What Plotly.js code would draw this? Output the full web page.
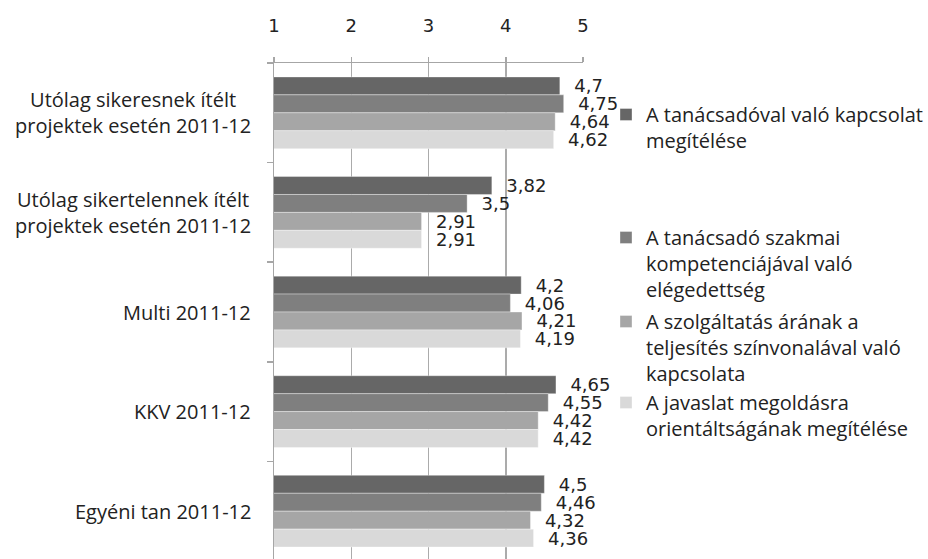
<!DOCTYPE html>
<html>
<head>
<meta charset="utf-8">
<script src="https://cdn.plot.ly/plotly-3.0.1.min.js"></script>
<style>
  html, body { margin: 0; padding: 0; background: #fff; overflow: hidden; }
  #chart { width: 928px; height: 561px; }
</style>
</head>
<body>
<div id="chart"></div>
<script>
// Categories (top to bottom) and the four rating series
const categories = [
  'Utólag sikeresnek ítélt<br>projektek esetén 2011-12',
  'Utólag sikertelennek ítélt<br>projektek esetén 2011-12',
  'Multi 2011-12',
  'KKV 2011-12',
  'Egyéni tan 2011-12'
];
const seriesNames = [
  'A tanácsadóval való kapcsolat<br>megítélése',
  'A tanácsadó szakmai<br>kompetenciájával való<br>elégedettség',
  'A szolgáltatás árának a<br>teljesítés színvonalával való<br>kapcsolata',
  'A javaslat megoldásra<br>orientáltságának megítélése'
];
const kapcsolat   = [4.7, 3.82, 4.2, 4.65, 4.5];
const kompetencia = [4.75, 3.5, 4.06, 4.55, 4.46];
const arSzinvonal = [4.64, 2.91, 4.21, 4.42, 4.32];
const megoldas    = [4.62, 2.91, 4.19, 4.42, 4.36];
const xTicks = [1, 2, 3, 4, 5];

const seriesValues = [kapcsolat, kompetencia, arSzinvonal, megoldas];
const colors = ['#666666', '#7f7f7f', '#a6a6a6', '#d9d9d9'];

// plot area in pixels, used to place legends and labels in paper units
const L = 274, R = 583, T = 63, B = 561;
const px = v => (v - L) / (R - L);
const py = v => 1 - (v - T) / (B - T);

const labelFont = { family: '"Open Sans", "Noto Sans", sans-serif', size: 20, color: '#222222' };
const numFont = { family: '"DejaVu Sans", sans-serif', size: 18, color: '#222222' };

const fmt = v => '\u00A0\u00A0' + String(v).replace('.', ',');

const legendIds = ['legend', 'legend2', 'legend3', 'legend4'];
const legendTops = [95, 218, 302, 383];

const traces = seriesValues.map((vals, i) => ({
  type: 'bar',
  orientation: 'h',
  name: seriesNames[i],
  y: categories,
  x: vals,
  text: vals.map(fmt),
  textposition: 'outside',
  constraintext: 'none',
  cliponaxis: false,
  textfont: numFont,
  marker: { color: colors[i], line: { color: 'rgba(255,255,255,0.35)', width: 1 } },
  legend: legendIds[i],
  hoverinfo: 'skip'
}));

const layout = {
  width: 928,
  height: 561,
  margin: { l: L, r: 928 - R, t: T, b: 561 - B },
  paper_bgcolor: '#ffffff',
  plot_bgcolor: '#ffffff',
  barmode: 'group',
  bargap: 0.28,
  bargroupgap: 0,
  showlegend: true,
  xaxis: {
    side: 'top',
    range: [1, 5],
    tickvals: xTicks,
    ticktext: xTicks.map(String),
    showgrid: true,
    gridcolor: '#ababab',
    gridwidth: 1.5,
    zeroline: false,
    showline: true,
    linecolor: '#a6a6a6',
    linewidth: 1.5,
    ticks: 'outside',
    ticklen: 5,
    tickcolor: '#a6a6a6',
    tickwidth: 1.5,
    ticklabelstandoff: 17,
    tickfont: numFont,
    fixedrange: true
  },
  yaxis: {
    type: 'category',
    autorange: 'reversed',
    showticklabels: false,
    showgrid: false,
    zeroline: false,
    showline: true,
    linecolor: '#a6a6a6',
    linewidth: 1.5,
    ticks: 'outside',
    tickson: 'boundaries',
    ticklen: 6,
    tickcolor: '#a6a6a6',
    tickwidth: 1.5,
    fixedrange: true
  },
  annotations: categories.map(c => ({
    xref: 'paper', yref: 'y',
    x: px(253), y: c,
    xanchor: 'right', yanchor: 'middle',
    align: 'center',
    text: c,
    showarrow: false,
    font: labelFont
  }))
};

legendIds.forEach((id, i) => {
  layout[id] = {
    x: px(606), xanchor: 'left',
    y: py(legendTops[i]), yanchor: 'top',
    valign: 'top',
    bgcolor: 'rgba(0,0,0,0)',
    borderwidth: 0,
    font: labelFont,
    itemclick: false,
    itemdoubleclick: false
  };
});

Plotly.newPlot('chart', traces, layout, { displayModeBar: false, staticPlot: true });
</script>
</body>
</html>
